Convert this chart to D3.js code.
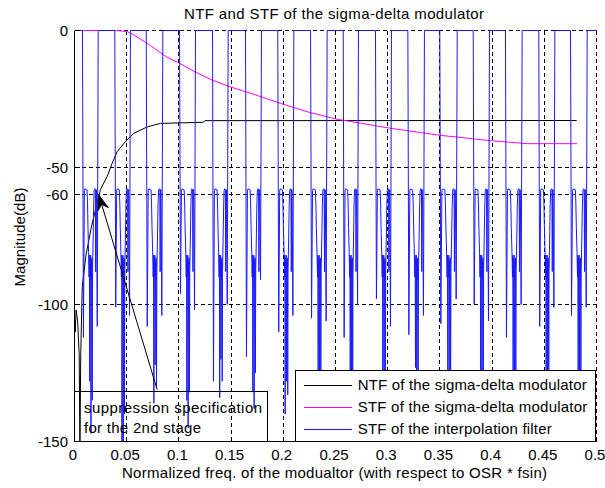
<!DOCTYPE html>
<html>
<head>
<meta charset="utf-8">
<script src="https://cdn.jsdelivr.net/npm/d3@7/dist/d3.min.js"></script>
<style>
  body { margin: 0; background: #fff; }
  svg { display: block; }
  text { font-family: "Liberation Sans", Arial, sans-serif; font-size: 15px; fill: #000; }
</style>
</head>
<body>
<svg id="chart" width="605" height="488"></svg>
<script>
// ---- axis ticks ----
const xTickValues = [0, 0.05, 0.1, 0.15, 0.2, 0.25, 0.3, 0.35, 0.4, 0.45, 0.5];
const yTickValues = [0, -50, -60, -100, -150];

// ---- NTF of the sigma-delta modulator ----
const ntfFreq = [0, 0.0007, 0.0015, 0.003, 0.0045, 0.0052, 0.006, 0.0074, 0.011, 0.016, 0.0201,
                 0.0249, 0.0313, 0.0361, 0.0409, 0.0489, 0.0568, 0.0696, 0.0824, 0.1235, 0.125, 0.481];
const ntfDb   = [-104, -110, -102, -106, -118, -152, -118, -93.6, -82, -72, -65.5,
                 -58, -53.3, -48.4, -44.2, -40.5, -37.5, -35.2, -33.9, -33.5, -32.9, -32.85];

// ---- STF of the sigma-delta modulator ----
const stfFreq = [0, 0.040, 0.0505, 0.0568, 0.0728, 0.0888, 0.0999, 0.1159, 0.1325, 0.1494, 0.1686,
                 0.2005, 0.2261, 0.2516, 0.2644, 0.2995, 0.349, 0.3985, 0.4336, 0.4815];
const stfDb   = [0, 0, -0.4, -1.6, -5.5, -9.8, -11.8, -15.2, -18.2, -20.6, -22.9,
                 -27.0, -30.0, -32.4, -33.2, -35.5, -38.2, -40.2, -41.3, -41.3];

// ---- STF of the interpolation filter: stopbands between the 0 dB images ----
const stopStart = [0.00766, 0.0386, 0.0687, 0.1006, 0.1322, 0.1638, 0.1947, 0.2261,
                   0.2574, 0.2883, 0.3193, 0.3499, 0.3819, 0.4128, 0.4447, 0.4751];
const stopEnd   = [0.0227, 0.0536, 0.0846, 0.1159, 0.1472, 0.1791, 0.2101, 0.2420,
                   0.2720, 0.3036, 0.3352, 0.3666, 0.3975, 0.4288, 0.4601, 0.4911];
// depths of the transition edges and stopband notches, per stopband
const edgeLeftDb  = [-112, -101, -108, -96, -128, -119, -110, -105, -112, -98, -111, -107, -100, -112, -108, -104];
const notchADb    = [-128, -152, -136, -135, -134, -132, -140, -125, -132, -128, -123, -134, -138, -129, -126, -128];
const notchBDb    = [-147, -156, -122, -145, -120, -138, -128, -137, -128, -136, -138, -128, -145, -133, -140, -133];
const notchCDb    = [-135, -140, -130, -132, -128, -125, -133, -130, -139, -124, -130, -136, -130, -126, -132, -125];
const edgeRightDb = [-108, -104, -104, -102, -100, -91, -104, -106, -100, -108, -104, -98, -106, -100, -101, -101];
// stopband response shape: position across the stopband and level (dB) or the named depth
const stopShapePos = [0.00, 0.06, 0.12, 0.15, 0.29, 0.32, 0.35, 0.39, 0.42, 0.44, 0.46, 0.48, 0.50,
                      0.52, 0.54, 0.56, 0.58, 0.60, 0.62, 0.64, 0.68, 0.71, 0.74, 0.77, 0.82, 0.84, 0.86, 0.89, 0.94, 1.00];
const stopShapeDb  = [0, "edgeL", -58.5, -57.8, -58.2, -63, -72, -81, -90, -82, "notchA", -83, -90,
                      -82, "notchB", -84, -91, -83, "notchC", -88, -75, -64, -58.5, -57.8, -58, -88, -58, -58.3, "edgeR", 0];

// ---- annotation ----
const noteArrowFrom = [0.0792, -131.1];
const noteArrowTo   = [0.0233, -60];
const noteBox = [0, 0.1852, -150, -131.75];
const noteLines = ["suppression specification", "for the 2nd stage"];

const legendLabels = ["NTF of the sigma-delta modulator", "STF of the sigma-delta modulator", "STF of the interpolation filter"];
const legendColors = ["#000000", "#ff00ff", "#1a1aff"];

// ---- layout ----
const svg = d3.select("#chart");
const x = d3.scaleLinear().domain([0, 0.5]).range([74.5, 596.5]);
const y = d3.scaleLinear().domain([-150, 0]).range([441.5, 30.5]);

svg.append("defs").append("clipPath").attr("id", "plotClip")
  .append("rect").attr("x", 74.5).attr("y", 30).attr("width", 523).attr("height", 412);

// grid
const grid = svg.append("g").attr("stroke", "#000").attr("stroke-width", 1)
  .attr("stroke-dasharray", "4,3").attr("shape-rendering", "crispEdges");
grid.selectAll("line.gx").data(xTickValues.filter(d => d > 0)).join("line")
  .attr("x1", d => Math.round(x(d) - 0.5) + 0.5).attr("x2", d => Math.round(x(d) - 0.5) + 0.5)
  .attr("y1", y(0)).attr("y2", y(-150));
grid.selectAll("line.gy").data(yTickValues.filter(d => d > -150)).join("line")
  .attr("y1", d => Math.round(y(d) - 0.5) + 0.5).attr("y2", d => Math.round(y(d) - 0.5) + 0.5)
  .attr("x1", x(0)).attr("x2", x(0.5));

// series
const line = d3.line().x(d => x(d[0])).y(d => y(d[1]));
const plot = svg.append("g").attr("clip-path", "url(#plotClip)").attr("fill", "none").attr("stroke-width", 1);

plot.append("path").attr("d", line(ntfFreq.map((f, i) => [f, ntfDb[i]]))).attr("stroke", legendColors[0]);
plot.append("path").attr("d", line(stfFreq.map((f, i) => [f, stfDb[i]]))).attr("stroke", legendColors[1]);

const depthSets = { edgeL: edgeLeftDb, notchA: notchADb, notchB: notchBDb, notchC: notchCDb, edgeR: edgeRightDb };
const interp = [[0, 0]];
stopStart.forEach((s, i) => {
  const w = stopEnd[i] - s;
  stopShapePos.forEach((p, j) => {
    const v = stopShapeDb[j];
    interp.push([s + p * w, typeof v === "string" ? depthSets[v][i] : v]);
  });
});
interp.push([0.5, 0]);
plot.append("path").attr("d", line(interp)).attr("stroke", legendColors[2]);

// axes lines and ticks
const axes = svg.append("g").attr("stroke", "#000").attr("stroke-width", 1).attr("shape-rendering", "crispEdges");
axes.append("line").attr("x1", x(0)).attr("x2", x(0)).attr("y1", y(0)).attr("y2", y(-150));
axes.append("line").attr("x1", x(0)).attr("x2", x(0.5)).attr("y1", y(-150)).attr("y2", y(-150));
axes.selectAll("line.tx").data(xTickValues).join("line")
  .attr("x1", d => Math.round(x(d) - 0.5) + 0.5).attr("x2", d => Math.round(x(d) - 0.5) + 0.5)
  .attr("y1", y(-150)).attr("y2", y(-150) - 5);
axes.selectAll("line.ty").data(yTickValues).join("line")
  .attr("y1", d => Math.round(y(d) - 0.5) + 0.5).attr("y2", d => Math.round(y(d) - 0.5) + 0.5)
  .attr("x1", x(0)).attr("x2", x(0) + 5);

// tick labels
svg.append("g").selectAll("text").data(xTickValues).join("text")
  .attr("x", d => x(d) - 1.5).attr("y", 460).attr("text-anchor", "middle").text(d => d3.format("")(d));
svg.append("g").selectAll("text").data(yTickValues).join("text")
  .attr("x", 68).attr("y", d => y(d) + 5.5).attr("text-anchor", "end").text(d => d);

// title and axis labels
svg.append("text").attr("x", 334).attr("y", 19).attr("text-anchor", "middle")
  .attr("textLength", 300).attr("lengthAdjust", "spacing").text("NTF and STF of the sigma-delta modulator");
svg.append("text").attr("x", 334.5).attr("y", 478).attr("text-anchor", "middle")
  .attr("textLength", 425).attr("lengthAdjust", "spacing")
  .text("Normalized freq. of the modualtor (with respect to OSR * fsin)");
svg.append("text").attr("transform", "translate(24.5,237) rotate(-90)").attr("text-anchor", "middle")
  .attr("textLength", 99).attr("lengthAdjust", "spacing").text("Magnitude(dB)");

// annotation text box and arrow
const note = svg.append("g");
note.append("rect")
  .attr("x", x(noteBox[0])).attr("y", Math.round(y(noteBox[3]) - 0.5) + 0.5)
  .attr("width", Math.round(x(noteBox[1]) - x(noteBox[0])))
  .attr("height", y(noteBox[2]) - (Math.round(y(noteBox[3]) - 0.5) + 0.5))
  .attr("fill", "none").attr("stroke", "#000").attr("shape-rendering", "crispEdges");
note.append("text").attr("x", 84).attr("y", 413).attr("textLength", 178).attr("lengthAdjust", "spacing").text(noteLines[0]);
note.append("text").attr("x", 84).attr("y", 432.5).attr("textLength", 117).attr("lengthAdjust", "spacing").text(noteLines[1]);

const ax0 = x(noteArrowFrom[0]), ay0 = y(noteArrowFrom[1]);
const ax1 = x(noteArrowTo[0]), ay1 = y(noteArrowTo[1]);
const ang = Math.atan2(ay1 - ay0, ax1 - ax0);
const headLen = 15, headHalf = 5.5, notch = 10;
const ux = Math.cos(ang), uy = Math.sin(ang);
const bx = ax1 - ux * headLen, by = ay1 - uy * headLen;
const nx = ax1 - ux * notch, ny = ay1 - uy * notch;
note.append("line").attr("x1", ax0).attr("y1", ay0).attr("x2", nx).attr("y2", ny)
  .attr("stroke", "#000").attr("stroke-width", 1);
note.append("path")
  .attr("d", d3.line()([[ax1, ay1], [bx - uy * headHalf, by + ux * headHalf], [nx, ny], [bx + uy * headHalf, by - ux * headHalf]]) + "Z")
  .attr("fill", "#000").attr("stroke", "#000").attr("stroke-width", 0.8);

// legend
const legend = svg.append("g");
legend.append("rect").attr("x", 295.5).attr("y", 370.5).attr("width", 300).attr("height", 71)
  .attr("fill", "#fff").attr("stroke", "#000").attr("shape-rendering", "crispEdges");
const legendWidths = [229, 229.6, 194];
legendLabels.forEach((lab, i) => {
  const ly = 384.5 + i * 22.2;
  legend.append("line").attr("x1", 304).attr("x2", 352).attr("y1", Math.round(ly) + 0.5).attr("y2", Math.round(ly) + 0.5)
    .attr("stroke", legendColors[i]).attr("stroke-width", 1);
  legend.append("text").attr("x", 357.7).attr("y", ly + 5.2)
    .attr("textLength", legendWidths[i]).attr("lengthAdjust", "spacing").text(lab);
});
</script>
</body>
</html>
